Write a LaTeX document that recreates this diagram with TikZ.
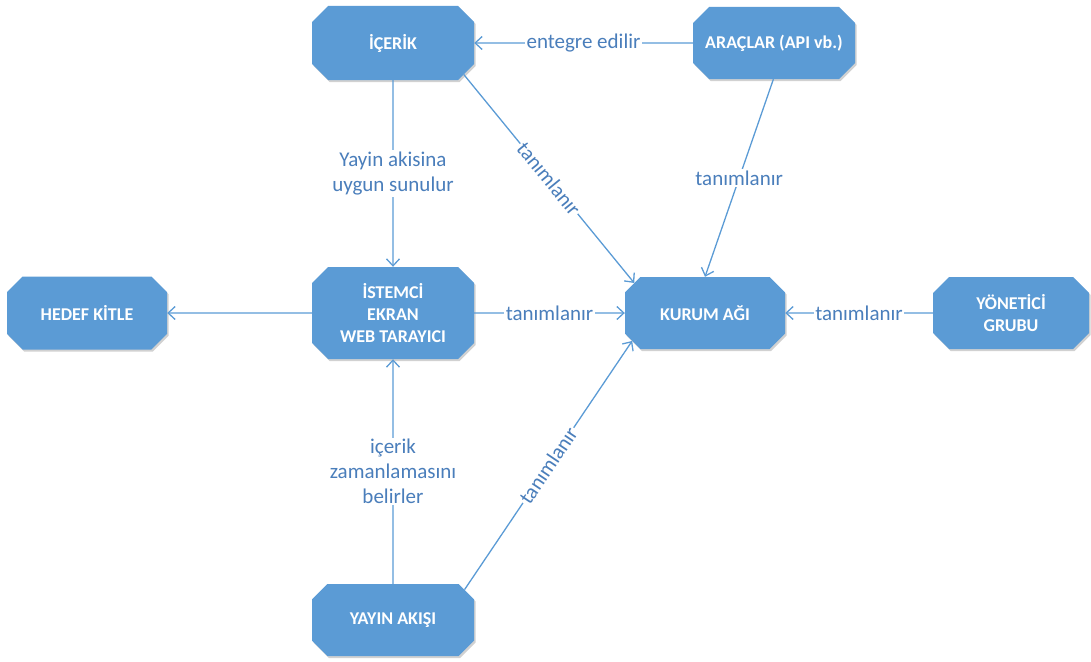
\documentclass[tikz,border=0pt]{standalone}
\usepackage{fontspec}
\setmainfont{Carlito}
\usetikzlibrary{shapes.misc,arrows.meta,shadows}
\definecolor{boxblue}{RGB}{91,155,213}
\definecolor{lineblue}{RGB}{91,155,213}
\definecolor{txtblue}{RGB}{74,126,187}
\tikzset{
  box/.style={chamfered rectangle, chamfered rectangle xsep=8pt, chamfered rectangle ysep=8pt,
    fill=boxblue, draw=none, text=white, align=center, inner sep=0pt,
    font=\bfseries\fontsize{18}{22}\selectfont,
    drop shadow={shadow xshift=1.5pt, shadow yshift=-2pt, opacity=0.3, fill=black!60}},
  arr/.style={draw=lineblue, line width=1.3pt, -{Straight Barb[length=7pt,width=13pt,line width=1.3pt]}},
  lbl/.style={fill=white, text=txtblue, inner sep=1.5pt, align=center,
    font=\fontsize{21}{25}\selectfont}
}
\begin{document}
\begin{tikzpicture}[x=1pt,y=-1pt]
\useasboundingbox (0,0) rectangle (1091,661);
\node[box, minimum width=162pt, minimum height=74pt] (icerik) at (393,43) {İÇERİK};
\node[box, minimum width=162pt, minimum height=72pt] (araclar) at (774,43) {ARAÇLAR (API vb.)};
\node[box, minimum width=162pt, minimum height=92pt] (istemci) at (393,313) {İSTEMCİ\\EKRAN\\WEB TARAYICI};
\node[box, minimum width=160pt, minimum height=73pt] (hedef) at (87,313) {HEDEF KİTLE};
\node[box, minimum width=160pt, minimum height=72pt] (kurum) at (705,313) {KURUM AĞI};
\node[box, minimum width=156pt, minimum height=72pt] (yonetici) at (1011,313) {YÖNETİCİ\\GRUBU};
\node[box, minimum width=162pt, minimum height=72pt] (yayin) at (393,620) {YAYIN AKIŞI};

\draw[arr] (araclar) -- node[lbl]{entegre edilir} (icerik);
\draw[arr] (icerik) -- node[lbl]{Yayin akisina\\uygun sunulur} (istemci);
\draw[arr] (icerik.-24.6) -- node[lbl,sloped]{tanımlanır} (kurum.157);
\draw[arr] (araclar.-91) -- node[lbl]{tanımlanır} (kurum.north);
\draw[arr] (istemci) -- (hedef);
\draw[arr] (istemci) -- node[lbl]{tanımlanır} (kurum);
\draw[arr] (yonetici) -- node[lbl]{tanımlanır} (kurum);
\draw[arr] (yayin) -- node[lbl]{içerik\\zamanlamasını\\belirler} (istemci);
\draw[arr] (yayin.23) -- node[lbl,sloped]{tanımlanır} (kurum.201);
\end{tikzpicture}
\end{document}
